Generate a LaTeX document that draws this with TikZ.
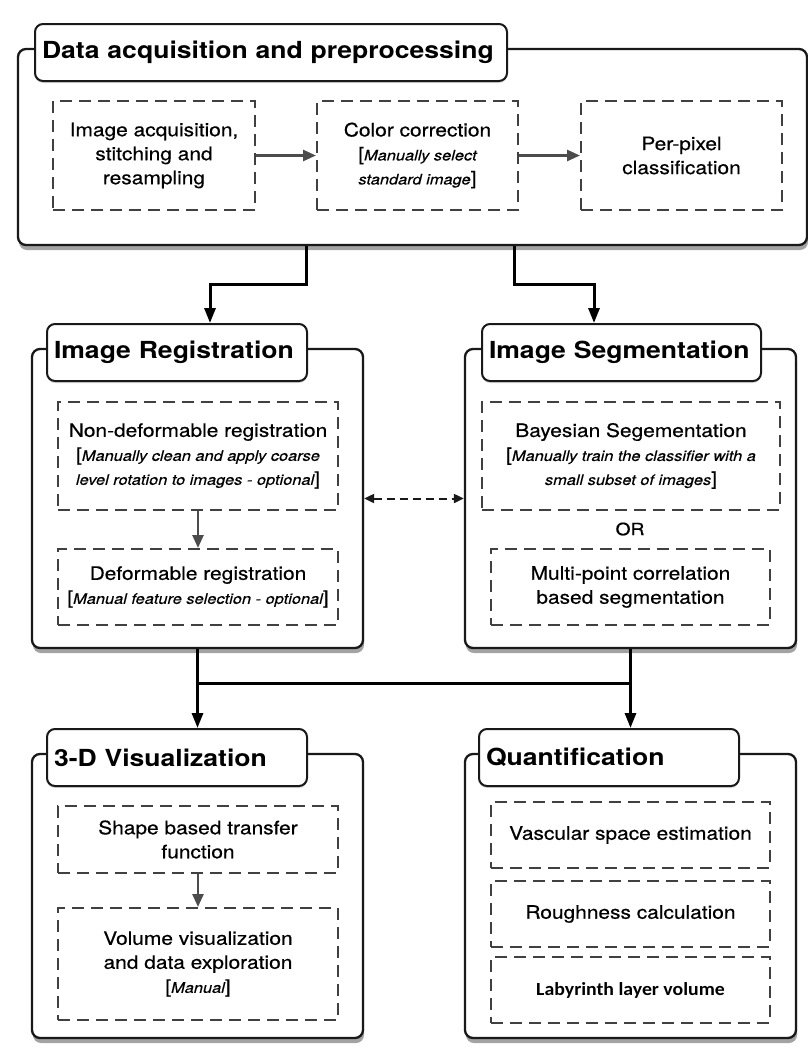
\documentclass[tikz,border=0pt]{standalone}
\usepackage{fontspec}
\setmainfont{TeX Gyre Heros}[FakeStretch=1.13,
    UprightFeatures={FakeBold=0.5},ItalicFeatures={FakeBold=0.4}]
\newfontfamily\calfont{Carlito}[FakeStretch=1.07]
\usetikzlibrary{arrows.meta, shadows}

\newcommand{\manual}[1]{{\fontsize{14.5}{24}\selectfont\itshape #1}}

\begin{document}
\begin{tikzpicture}[x=1pt,y=-1pt,
            big box/.style={draw=black!90,line width=2.3pt,rounded corners=8pt,fill=white,
                drop shadow={shadow xshift=1pt,shadow yshift=-5pt,opacity=.45,fill=black!80}},
            title box/.style={draw=black!90,line width=2pt,rounded corners=8pt,fill=white,
                minimum height=57pt,inner xsep=7pt,align=left,text=black,
                drop shadow={shadow xshift=0pt,shadow yshift=-2pt,opacity=.25,fill=black!60},
                font=\fontsize{23.5}{28}\selectfont\bfseries},
            step box/.style={draw=black!75,line width=2pt,dash pattern=on 12pt off 7pt,
                align=center,text=black,font=\fontsize{18.5}{24}\selectfont},
            flow/.style={-{Triangle[length=15pt,width=11pt]},line width=3pt,draw=black},
            inner flow/.style={-{Triangle[length=13pt,width=11pt]},line width=2.6pt,draw=black!70},
            both flow/.style={{Triangle[length=10pt,width=9pt]}-{Triangle[length=10pt,width=9pt]},
                line width=2pt,dash pattern=on 8pt off 5pt,draw=black!90}]

        \useasboundingbox (0,0) rectangle (808,1053);

        \node[big box,minimum width=789pt,minimum height=196pt] (dapBox) at (412.5,147) {};
        \node[title box,text width=458pt] (dapTitle) at (271,52.5) {Data acquisition and preprocessing};
        \node[step box,minimum width=202pt,minimum height=109pt] (acqBox) at (154,155.5)
            {Image acquisition,\\stitching and\\resampling};
        \node[step box,minimum width=201pt,minimum height=109pt] (colorBox) at (417.5,155.5)
            {Color correction\\{[}\manual{Manually select}\\\manual{standard image}]};
        \node[step box,minimum width=201pt,minimum height=109pt] (pixelBox) at (681.5,155.5)
            {Per-pixel\\classification};

        \node[big box,minimum width=331pt,minimum height=299pt] (regBox) at (197.5,498.5) {};
        \node[title box,text width=246pt] (regTitle) at (177,352.5) {Image Registration};
        \node[step box,minimum width=280pt,minimum height=108pt] (nondefBox) at (198,456)
            {Non-deformable registration\\{[}\manual{Manually clean and apply coarse}\\\manual{level rotation to images - optional}]};
        \node[step box,minimum width=280pt,minimum height=76pt] (defBox) at (198,587)
            {Deformable registration\\{[}\manual{Manual feature selection - optional}]};

        \node[big box,minimum width=331pt,minimum height=299pt] (segBox) at (630.5,498.5) {};
        \node[title box,text width=265pt] (segTitle) at (621.5,352.5) {Image Segmentation};
        \node[step box,minimum width=298pt,minimum height=108pt] (bayesBox) at (631,456)
            {Bayesian Segementation\\{[}\manual{Manually train the classifier with a}\\\manual{small subset of images}]};
        \node[text=black,font=\fontsize{17}{20}\selectfont] (orLabel) at (630,529) {OR};
        \node[step box,minimum width=279pt,minimum height=76pt] (multiBox) at (630.5,587)
            {Multi-point correlation\\based segmentation};

        \node[big box,minimum width=331pt,minimum height=284pt] (visBox) at (197.5,896) {};
        \node[title box,text width=246pt] (visTitle) at (177,757.5) {3-D Visualization};
        \node[step box,minimum width=280pt,minimum height=67pt] (shapeBox) at (198,839.5)
            {Shape based transfer\\function};
        \node[step box,minimum width=280pt,minimum height=112pt] (volBox) at (198,964)
            {Volume visualization\\and data exploration\\{[}\manual{Manual}]};

        \node[big box,minimum width=331pt,minimum height=284pt] (quantBox) at (630.5,896) {};
        \node[title box,text width=246pt] (quantTitle) at (609,757.5) {Quantification};
        \node[step box,minimum width=279pt,minimum height=66pt] (vascBox) at (630.5,835)
            {Vascular space estimation};
        \node[step box,minimum width=279pt,minimum height=66pt] (roughBox) at (630.5,914)
            {Roughness calculation};
        \node[step box,minimum width=279pt,minimum height=66pt] (labyBox) at (630.5,990)
            {\calfont\bfseries Labyrinth layer volume};

        \draw[inner flow] (acqBox) -- (colorBox);
        \draw[inner flow] (colorBox) -- (pixelBox);
        \draw[inner flow] (nondefBox) -- (defBox);
        \draw[inner flow] (shapeBox) -- (volBox);
        \draw[both flow] (regBox) -- (segBox);

        \draw[flow] ([xshift=-106.5pt]dapBox.south) -- ++(0,38) -| ([xshift=33pt]regTitle.north);
        \draw[flow] ([xshift=101.5pt]dapBox.south) -- ++(0,38) -| ([xshift=-27.5pt]segTitle.north);

        \coordinate (joinL) at (197.5,683);
        \coordinate (joinR) at (630.5,683);
        \draw[line width=3pt,draw=black] (regBox.south) -- (joinL) -- (joinR) -- (segBox.south);
        \draw[flow] (joinL) -- (joinL |- visTitle.north);
        \draw[flow] (joinR) -- (joinR |- quantTitle.north);
    \end{tikzpicture}
\end{document}
